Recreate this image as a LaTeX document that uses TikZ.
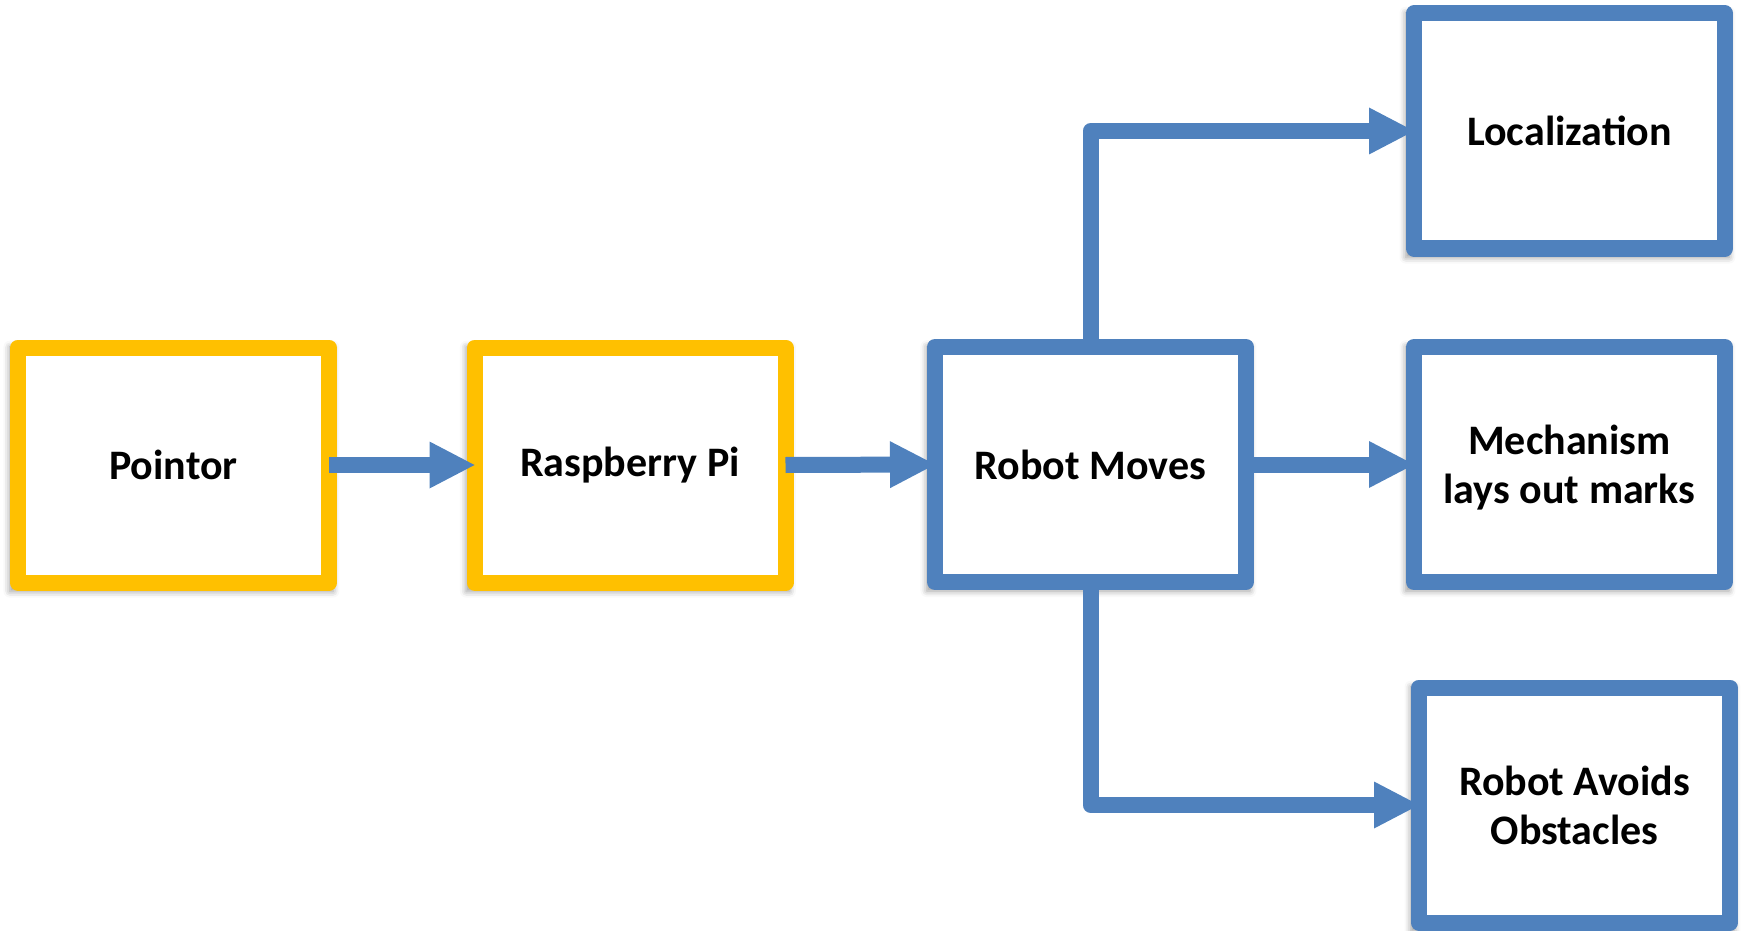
\documentclass[tikz,border=0pt]{standalone}
\usepackage{fontspec}
\setmainfont{Carlito}
\usetikzlibrary{arrows.meta,shadows.blur}
\definecolor{gold}{HTML}{FFC000}
\definecolor{steel}{HTML}{4F81BD}
\begin{document}
\begin{tikzpicture}[x=0.5pt,y=-0.5pt,
  box/.style={draw, line width=8pt, line join=round, fill=white,
    minimum width=155.5pt, minimum height=117.5pt, inner sep=0pt, outer sep=0pt,
    align=center, font=\fontsize{21}{24.5}\selectfont\bfseries,
    blur shadow={shadow xshift=-1pt, shadow yshift=-2pt, shadow blur radius=3pt,
      shadow opacity=40, shadow scale=1.04}},
  yellowbox/.style={box, draw=gold},
  bluebox/.style={box, draw=steel},
  conn/.style={draw=steel, line width=8pt, line join=round,
    -{Triangle[length=22.5pt,width=23.5pt,line width=0pt]}}
]
\useasboundingbox (0,0) rectangle (1742,931);
\node[yellowbox] (ptr) at (173.5,465) {Pointor};
\node[yellowbox] (rpi) at (630,465) {Raspberry Pi};
\node[bluebox] (rm) at (1090.5,464.5) {Robot Moves};
\node[bluebox] (loc) at (1569.5,131) {Localization};
\node[bluebox, text depth=0pt] (mech) at (1569.5,464.5) {Mechanism\\lays out marks};
\node[bluebox, text depth=0pt] (avoid) at (1574.5,805) {Robot Avoids\\Obstacles};
\draw[conn] (ptr.east) -- (rpi.west);
\draw[conn] (rpi.east) -- (rm.west);
\draw[conn] (rm.east) -- (mech.west);
\draw[conn] (rm.north) |- (loc.west);
\draw[conn] (rm.south) |- (avoid.west);
\end{tikzpicture}
\end{document}
